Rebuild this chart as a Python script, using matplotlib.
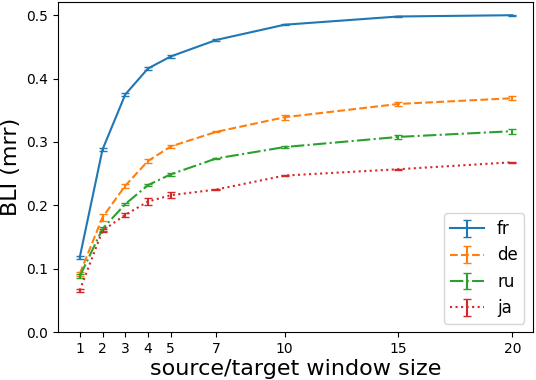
import numpy as np
import matplotlib.pyplot as plt

# window sizes and BLI (mrr) per language
window = [1, 2, 3, 4, 5, 7, 10, 15, 20]

fr = [0.118, 0.288, 0.375, 0.416, 0.435, 0.461, 0.485, 0.498, 0.500]
fr_err = [0.002, 0.002, 0.003, 0.003, 0.002, 0.002, 0.001, 0.001, 0.001]

de = [0.092, 0.181, 0.231, 0.270, 0.293, 0.316, 0.339, 0.360, 0.369]
de_err = [0.003, 0.006, 0.003, 0.003, 0.003, 0.001, 0.004, 0.003, 0.003]

ru = [0.088, 0.163, 0.202, 0.232, 0.249, 0.274, 0.292, 0.308, 0.317]
ru_err = [0.003, 0.003, 0.002, 0.002, 0.002, 0.001, 0.002, 0.003, 0.004]

ja = [0.066, 0.160, 0.185, 0.206, 0.216, 0.225, 0.247, 0.257, 0.268]
ja_err = [0.002, 0.002, 0.003, 0.005, 0.005, 0.001, 0.001, 0.001, 0.001]

fig = plt.figure(figsize=(5.36, 3.8), dpi=100)
ax = fig.add_axes([0.108, 0.126, 0.886, 0.869])

ax.errorbar(window, fr, yerr=fr_err, ls="-", capsize=3, label="fr")
ax.errorbar(window, de, yerr=de_err, ls="--", capsize=3, label="de")
ax.errorbar(window, ru, yerr=ru_err, ls="-.", capsize=3, label="ru")
ax.errorbar(window, ja, yerr=ja_err, ls=":", capsize=3, label="ja")

ax.set_xticks(window)
ax.set_xlim(0.04, 20.9)
ax.set_ylim(0, 0.521)
ax.tick_params(labelsize=10)
ax.set_xlabel("source/target window size", fontsize=16, labelpad=2)
ax.set_ylabel("BLI (mrr)", fontsize=16)
ax.legend(loc="lower right", fontsize=12)

fig.savefig("out.png")
